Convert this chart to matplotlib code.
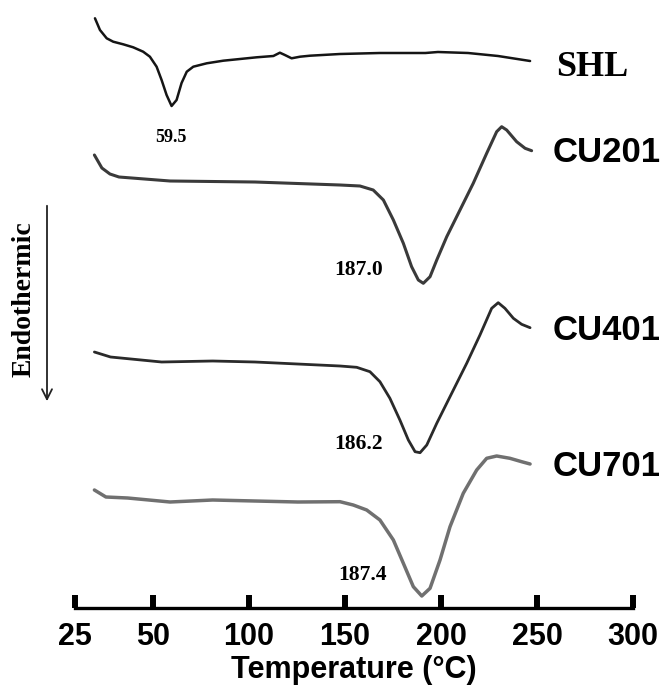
import matplotlib
matplotlib.use("Agg")
import matplotlib.pyplot as plt
from matplotlib.patches import FancyArrowPatch

# ---------------- data (temperature in °C, heat flow in arbitrary units incl. vertical offset)
shl_T = [19.8, 22.4, 25.9, 29.3, 34.5, 39.7, 44.9, 48.4, 51.9, 54.5, 57.1, 59.7, 62.3, 64.9,
         67.6, 71.0, 78.0, 86.6, 95.3, 104.0, 112.7, 116.1, 118.7, 122.2, 126.6, 131.8,
         147.4, 168.2, 191.9, 198.4, 214.1, 229.7, 246.4]
shl_y = [589.7, 578, 569.7, 566.3, 563.7, 560.7, 556.3, 551.3, 541.3, 528, 513, 502, 508, 525,
         536.3, 541.3, 544.7, 547.3, 549, 550.7, 552, 555.3, 553, 549.7, 551.3, 552.3,
         554, 555, 555, 556, 555, 552, 547]

cu201_T = [19.5, 23.4, 27.6, 32.3, 58.9, 103.1, 147.4, 157.8, 164.7, 170.0, 175.2, 180.4, 184.7,
           188.2, 190.8, 194.3, 197.8, 203.0, 209.9, 216.8, 223.8, 229.0, 231.6, 234.2, 239.4,
           243.8, 247.2]
cu201_y = [453, 440, 434, 431, 427, 426, 423, 422, 418, 408, 388, 364.7, 341.3,
           328, 324.7, 331.3, 348, 371.3, 398, 424.7, 454.7, 476.3, 481.3, 478, 466.3,
           459.7, 457.3]

cu401_T = [19.5, 27.9, 54.5, 81.1, 103.1, 147.4, 156.1, 163.0, 168.2, 173.4, 178.6, 183.0,
           186.5, 189.1, 192.6, 197.8, 204.7, 213.4, 220.3, 226.4, 229.8, 233.3, 237.7, 242.0,
           246.4]
cu401_y = [256, 251, 246, 247, 246, 242, 240.7, 236.3, 226.3, 209.7, 188, 168,
           156.3, 155.3, 163, 184.7, 211.3, 244.7, 273, 299.7, 305.3, 299.7, 289.7, 283.7,
           280.3]

cu701_T = [19.5, 25.5, 36.8, 58.9, 81.1, 103.1, 125.5, 147.4, 154.3, 161.3, 168.2, 175.2, 180.4,
           185.6, 190.0, 194.3, 199.5, 204.7, 211.6, 218.6, 223.8, 229.0, 235.9, 242.0, 246.4]
cu701_y = [118, 111, 110, 106, 108, 107, 106, 106.3, 103, 98, 88, 68, 44.7,
           21.3, 12, 19.7, 48, 81.3, 114.7, 138, 149.7, 152, 149.7, 146.3, 144]

series_names = ["SHL", "CU201", "CU401", "CU701"]
peak_labels = ["59.5", "187.0", "186.2", "187.4"]

tick_values = [9.4, 50, 100, 150, 200, 250, 300]
tick_labels = ["25", "50", "100", "150", "200", "250", "300"]

# ---------------- figure
W, H = 667, 696
fig = plt.figure(figsize=(W / 100, H / 100), dpi=100)
ax_left, ax_right, ax_bottom = 75, 633, 608
ax = fig.add_axes([ax_left / W, (H - ax_bottom) / H, (ax_right - ax_left) / W, ax_bottom / H])
ax.set_xlim(tick_values[0], 300)
ax.set_ylim(0, 608)

colors = ["#151515", "#3a3a3a", "#2a2a2a", "#707070"]
lws = [1.8, 2.2, 2.0, 2.5]
curves = [(shl_T, shl_y), (cu201_T, cu201_y), (cu401_T, cu401_y), (cu701_T, cu701_y)]
for (T, y), c, lw in zip(curves, colors, lws):
    ax.plot(T, y, color=c, lw=lw, solid_capstyle="round", solid_joinstyle="round", clip_on=False)

for s in ["top", "left", "right"]:
    ax.spines[s].set_visible(False)
ax.spines["bottom"].set_linewidth(2.4)
ax.set_yticks([])
ax.set_xticks(tick_values)
ax.set_xticklabels(tick_labels)
ax.tick_params(axis="x", direction="in", length=9.5, width=4.3, pad=10, labelsize=22)
for lab in ax.get_xticklabels():
    lab.set_fontfamily("Liberation Sans")
    lab.set_fontweight("bold")
ax.set_xlabel("Temperature (°C)", fontsize=22, fontweight="bold", family="Liberation Sans",
              labelpad=2)


def px(x, y):
    return x / W, 1 - y / H


# curve names
fig.text(*px(556, 67), "SHL", family="Liberation Serif", fontweight="bold", fontsize=26,
         va="center", ha="left")
for name, yy in zip(series_names[1:], [153, 330, 467]):
    fig.text(*px(553, yy), name, family="Liberation Sans", fontweight="bold", fontsize=25,
             va="center", ha="left")

# peak temperatures
fig.text(*px(171, 137), peak_labels[0], family="Liberation Serif", fontsize=13,
         fontweight="bold", ha="center", va="center")
for lab, (xx, yy) in zip(peak_labels[1:], [(359, 270), (359, 444), (362, 575)]):
    fig.text(*px(xx, yy), lab, family="Liberation Serif", fontsize=15.5, fontweight="bold",
             ha="center", va="center")

# endothermic arrow
fig.text(*px(24, 299), "Endothermic", family="Liberation Serif", fontsize=20, fontweight="bold",
         rotation=90, ha="center", va="center")
fig.add_artist(FancyArrowPatch(
    px(47, 203), px(47, 404), transform=fig.transFigure, arrowstyle="->",
    mutation_scale=18, lw=1.3, color="#222222"))

fig.savefig("out.png", dpi=100, facecolor="white")
